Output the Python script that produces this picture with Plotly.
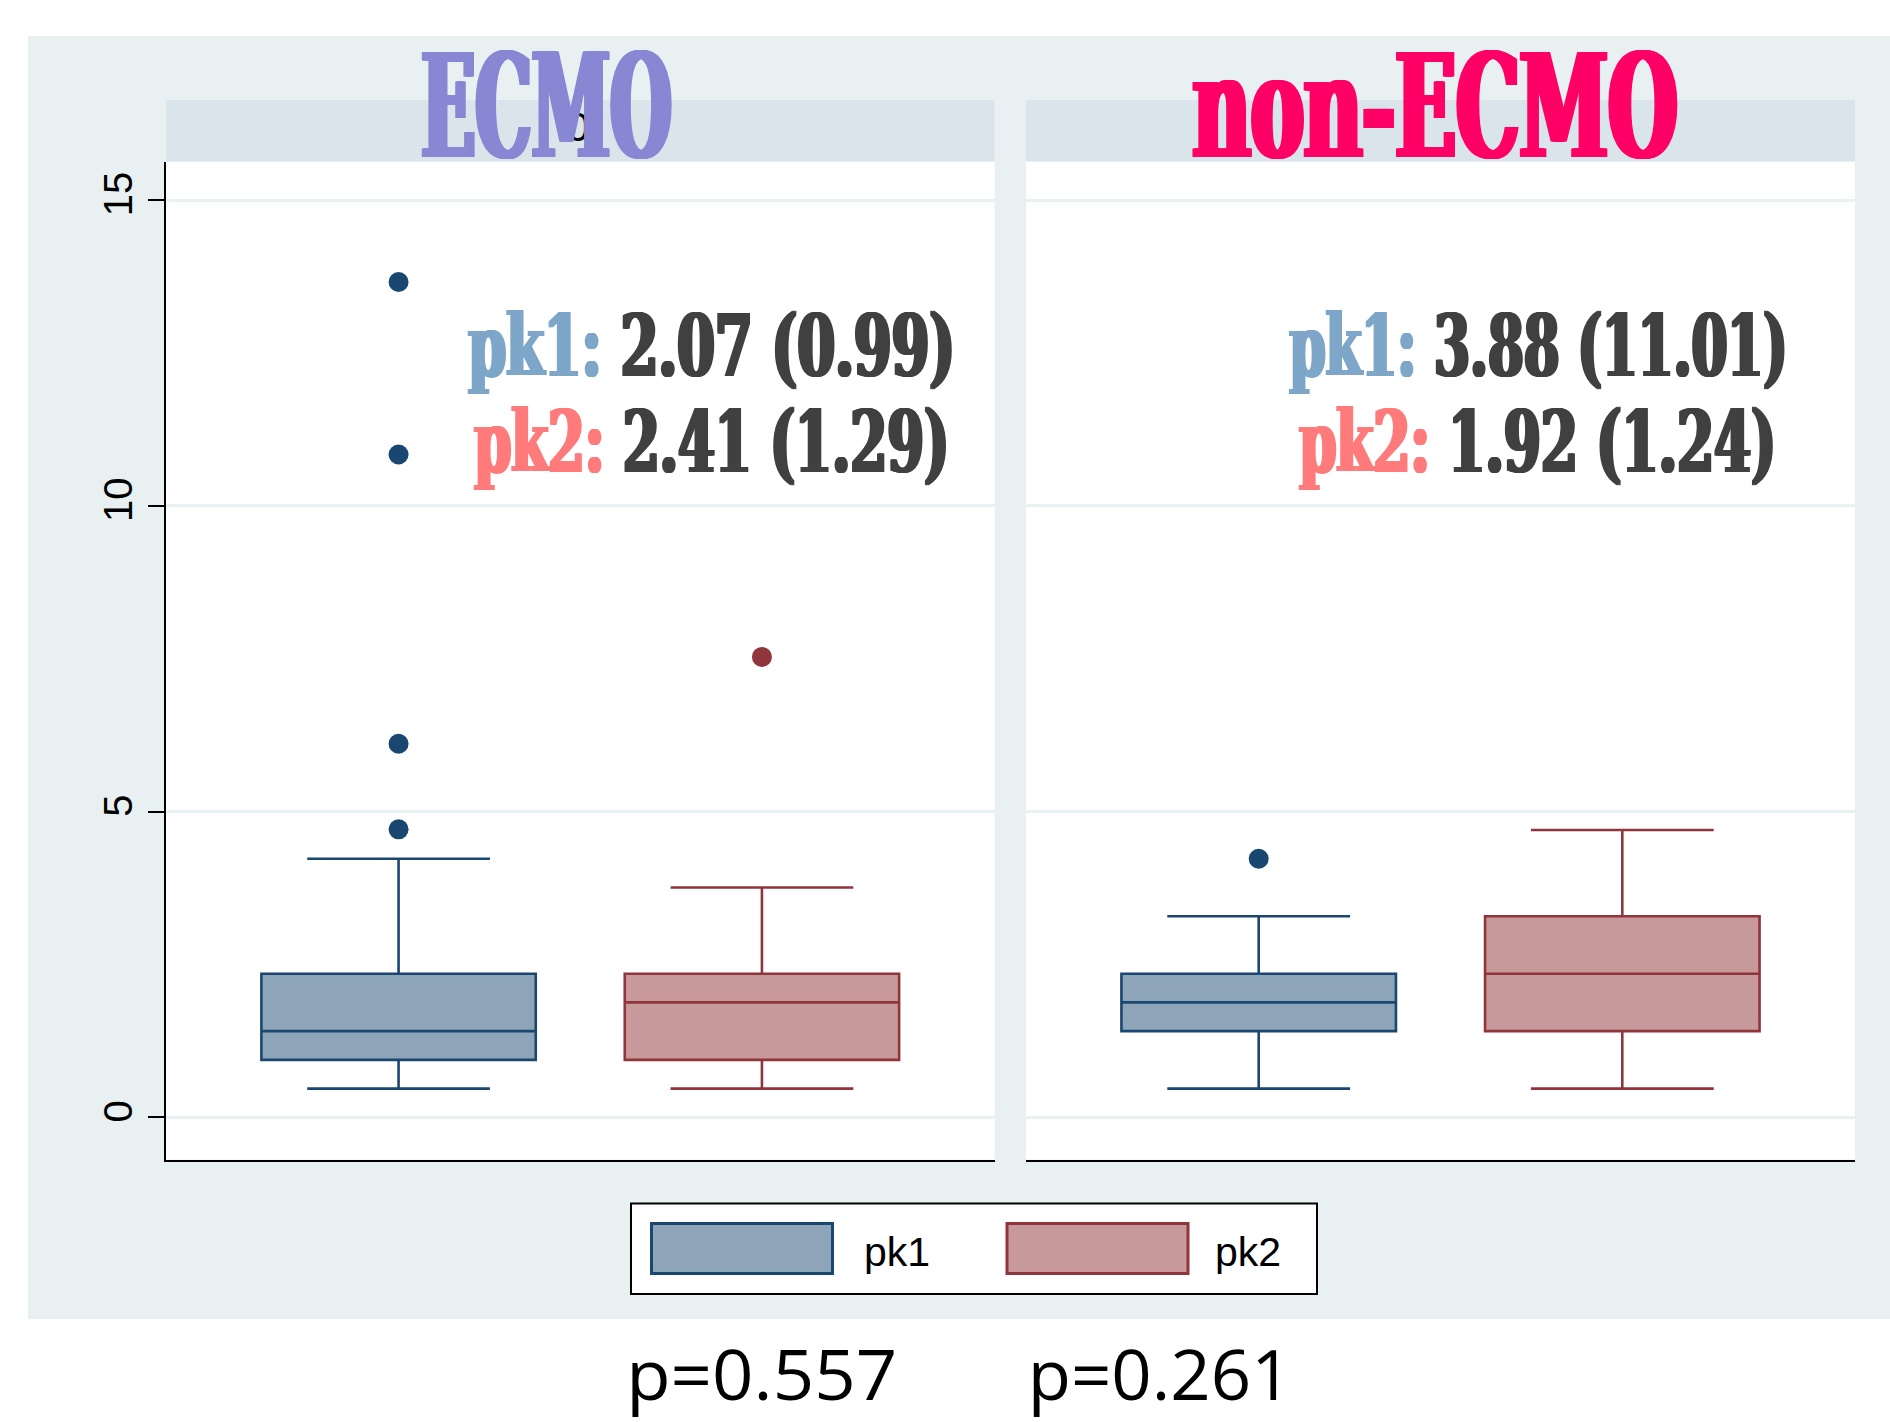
import json
import plotly.graph_objects as go

W, H = 1890, 1422


def px(x):
    return x / W


def py(y):
    return 1 - y / H


# ---------------- data ----------------
groups = ["ECMO", "non-ECMO"]
series = ["pk1", "pk2"]
positions = [1, 2]
y_ticks = [0, 5, 10, 15]

# box statistics: [lowerfence, q1, median, q3, upperfence]
ecmo_pk1_stats = [0.47, 0.94, 1.41, 2.35, 4.23]
ecmo_pk2_stats = [0.47, 0.94, 1.88, 2.35, 3.76]
nonecmo_pk1_stats = [0.47, 1.41, 1.88, 2.35, 3.29]
nonecmo_pk2_stats = [0.47, 1.41, 2.35, 3.29, 4.70]

ecmo_pk1_outliers = [4.71, 6.11, 10.84, 13.66]
ecmo_pk2_outliers = [7.53]
nonecmo_pk1_outliers = [4.23]
nonecmo_pk2_outliers = []

# mean (sd) summaries shown in each panel
ecmo_summary = ["2.07 (0.99)", "2.41 (1.29)"]
nonecmo_summary = ["3.88 (11.01)", "1.92 (1.24)"]
p_values = ["p=0.557", "p=0.261"]
strip_labels = ["0", "1"]

# ---------------- style ----------------
line_colors = {"pk1": "#1A476F", "pk2": "#90353B"}
fill_colors = {"pk1": "#8DA4B9", "pk2": "#C8999B"}
label_colors = {"pk1": "#7DA6C8", "pk2": "#FF7B7B"}
title_colors = {"ECMO": "#8787D3", "non-ECMO": "#FF0066"}
outer_bg = "#E8F0F2"
strip_bg = "#D9E5EA"
grid_col = "#EAF1F3"

fig = go.Figure()

panel_data = [
    ("x", "y", [ecmo_pk1_stats, ecmo_pk2_stats], [ecmo_pk1_outliers, ecmo_pk2_outliers]),
    ("x2", "y2", [nonecmo_pk1_stats, nonecmo_pk2_stats], [nonecmo_pk1_outliers, nonecmo_pk2_outliers]),
]

for xa, ya, stats_list, outl_list in panel_data:
    for s, pos, st, outl in zip(series, positions, stats_list, outl_list):
        fig.add_trace(go.Box(
            x=[pos], lowerfence=[st[0]], q1=[st[1]], median=[st[2]], q3=[st[3]], upperfence=[st[4]],
            width=0.755, whiskerwidth=0.666,
            fillcolor=fill_colors[s], line=dict(color=line_colors[s], width=2.6),
            boxpoints=False, showlegend=False, name=s, hoverinfo="skip",
            xaxis=xa, yaxis=ya,
        ))
        if outl:
            fig.add_trace(go.Scatter(
                x=[pos] * len(outl), y=outl, mode="markers",
                marker=dict(color=line_colors[s], size=20, line=dict(width=0)),
                showlegend=False, hoverinfo="skip", xaxis=xa, yaxis=ya,
            ))

x_range = [0.36, 2.64]
y_range = [-0.69, 15.63]
ydom = [py(1159.6), py(161.5)]

axis_common = dict(range=x_range, showgrid=False, zeroline=False, showline=True,
                   linecolor="black", linewidth=2, ticks="", showticklabels=False,
                   automargin=False, fixedrange=True)

fig.update_layout(
    template="none",
    width=W, height=H,
    margin=dict(l=0, r=0, t=0, b=0),
    paper_bgcolor=outer_bg,
    plot_bgcolor="white",
    showlegend=False,
    xaxis=dict(domain=[px(166), px(994.5)], anchor="y", **axis_common),
    xaxis2=dict(domain=[px(1026), px(1855)], anchor="y2", **axis_common),
    yaxis=dict(domain=ydom, anchor="x", range=y_range, tickvals=y_ticks,
               ticktext=[str(t) for t in y_ticks], ticks="outside", ticklen=16,
               tickwidth=2, tickcolor="black", showline=True, linecolor="black",
               linewidth=2, showgrid=True, gridcolor=grid_col, gridwidth=3,
               zeroline=False, tickangle=-90, automargin=False, fixedrange=True,
               tickfont=dict(family="Liberation Sans, Arial, sans-serif", size=40, color="black")),
    yaxis2=dict(domain=ydom, anchor="x2", range=y_range, tickvals=y_ticks,
                showticklabels=False, ticks="", showline=False, showgrid=True,
                gridcolor=grid_col, gridwidth=3, zeroline=False, automargin=False,
                fixedrange=True),
)

shapes = []
# white page margins around the grey-blue graph region
shapes.append(dict(type="rect", xref="paper", yref="paper", x0=0, x1=1, y0=py(36), y1=1,
                   fillcolor="white", line=dict(width=0), layer="below"))
shapes.append(dict(type="rect", xref="paper", yref="paper", x0=0, x1=px(28), y0=0, y1=1,
                   fillcolor="white", line=dict(width=0), layer="below"))
shapes.append(dict(type="rect", xref="paper", yref="paper", x0=0, x1=1, y0=0, y1=py(1319),
                   fillcolor="white", line=dict(width=0), layer="below"))
# strip headers
for x0, x1 in [(166, 994.5), (1026, 1855)]:
    shapes.append(dict(type="rect", xref="paper", yref="paper", x0=px(x0), x1=px(x1),
                       y0=py(161.5), y1=py(100), fillcolor=strip_bg, line=dict(width=0)))
# legend box and keys
shapes.append(dict(type="rect", xref="paper", yref="paper", x0=px(631), x1=px(1317),
                   y0=py(1294), y1=py(1203.5), fillcolor="white",
                   line=dict(color="black", width=2)))
for s, (k0, k1) in zip(series, [(651.5, 832.5), (1007, 1188)]):
    shapes.append(dict(type="rect", xref="paper", yref="paper", x0=px(k0), x1=px(k1),
                       y0=py(1273.5), y1=py(1223.5), fillcolor=fill_colors[s],
                       line=dict(color=line_colors[s], width=3)))
fig.update_layout(shapes=shapes)

title_font = "DejaVu Serif, Liberation Serif, serif"
ann = []
# 0: strip label (partly hidden behind the ECMO title, as in the original)
ann.append(dict(text=strip_labels[0], x=px(578), y=py(127.5), xanchor="center", yanchor="middle",
                font=dict(family="Liberation Sans, Arial, sans-serif", size=40, color="black")))
# 1-2: panel titles
ann.append(dict(text=groups[0], x=px(546.5), y=py(106), xanchor="center", yanchor="middle",
                font=dict(family=title_font, size=144, color=title_colors["ECMO"], weight="bold")))
ann.append(dict(text=groups[1], x=px(1435), y=py(106), xanchor="center", yanchor="middle",
                font=dict(family=title_font, size=144, color=title_colors["non-ECMO"], weight="bold")))
# 3-6: summaries
for cx, summ in [(711.5, ecmo_summary), (1538.3, nonecmo_summary)]:
    for s, val, ymid in zip(series, summ, [345.8, 441.7]):
        ann.append(dict(
            text=f"<span style='color:{label_colors[s]}'>{s}:</span> {val}",
            x=px(cx), y=py(ymid), xanchor="center", yanchor="middle",
            font=dict(family=title_font, size=86, color="#404040", weight="bold")))
# 7-8: legend labels
for s, lx in zip(series, [862, 1213]):
    ann.append(dict(text=s, x=px(lx), y=py(1252), xanchor="left", yanchor="middle",
                    font=dict(family="Liberation Sans, Arial, sans-serif", size=41, color="black")))
# 9-10: p-values
for pv, cx in zip(p_values, [761.5, 1159]):
    ann.append(dict(text=pv, x=px(cx), y=py(1373), xanchor="center", yanchor="middle",
                    font=dict(family="Open Sans, Noto Sans, sans-serif", size=70, color="black")))
for a in ann:
    a.update(xref="paper", yref="paper", showarrow=False)
fig.update_layout(annotations=ann)

# horizontal condensing / emboldening of the display texts to mimic the original
# heavy condensed typeface: index -> [target width px, horizontal stem thickening px]
text_fit = {1: [255, 4.5], 2: [490, 4.5], 3: [490, 2.5], 4: [478, 2.5], 5: [501, 2.5],
            6: [480, 2.5], 9: [271, 0], 10: [264, 0]}

post = """
document.body.style.margin = '0';
document.documentElement.style.overflow = 'hidden';
var gd = document.getElementById('{plot_id}');
var cfg = CONFIG;
gd.querySelectorAll('g.annotation').forEach(function(g) {
  var i = g.getAttribute('data-index');
  if (!(i in cfg)) return;
  var t = g.querySelector('text.annotation-text');
  if (!t) return;
  var b = t.getBBox();
  if (!b.width) return;
  var d = cfg[i][1];
  var s = cfg[i][0] / (b.width + 2 * d);
  var cx = b.x + b.width / 2;
  t.setAttribute('transform', 'translate(' + cx + ',0) scale(' + s + ',1) translate(' + (-cx) + ',0)');
  if (d > 0) {
    var els = [t].concat(Array.prototype.slice.call(t.querySelectorAll('tspan')));
    els.forEach(function(el) {
      var col = window.getComputedStyle(el).fill;
      var n = Math.ceil(d / 1.5);
      var parts = [];
      for (var k = 1; k <= n; k++) {
        var o = (d * k / n).toFixed(2);
        parts.push(o + 'px 0 0 ' + col);
        parts.push('-' + o + 'px 0 0 ' + col);
      }
      el.style.textShadow = parts.join(', ');
    });
  }
});
""".replace("CONFIG", json.dumps({str(k): v for k, v in text_fit.items()}))

fig.write_html("out.html", post_script=post, config={"displayModeBar": False})
